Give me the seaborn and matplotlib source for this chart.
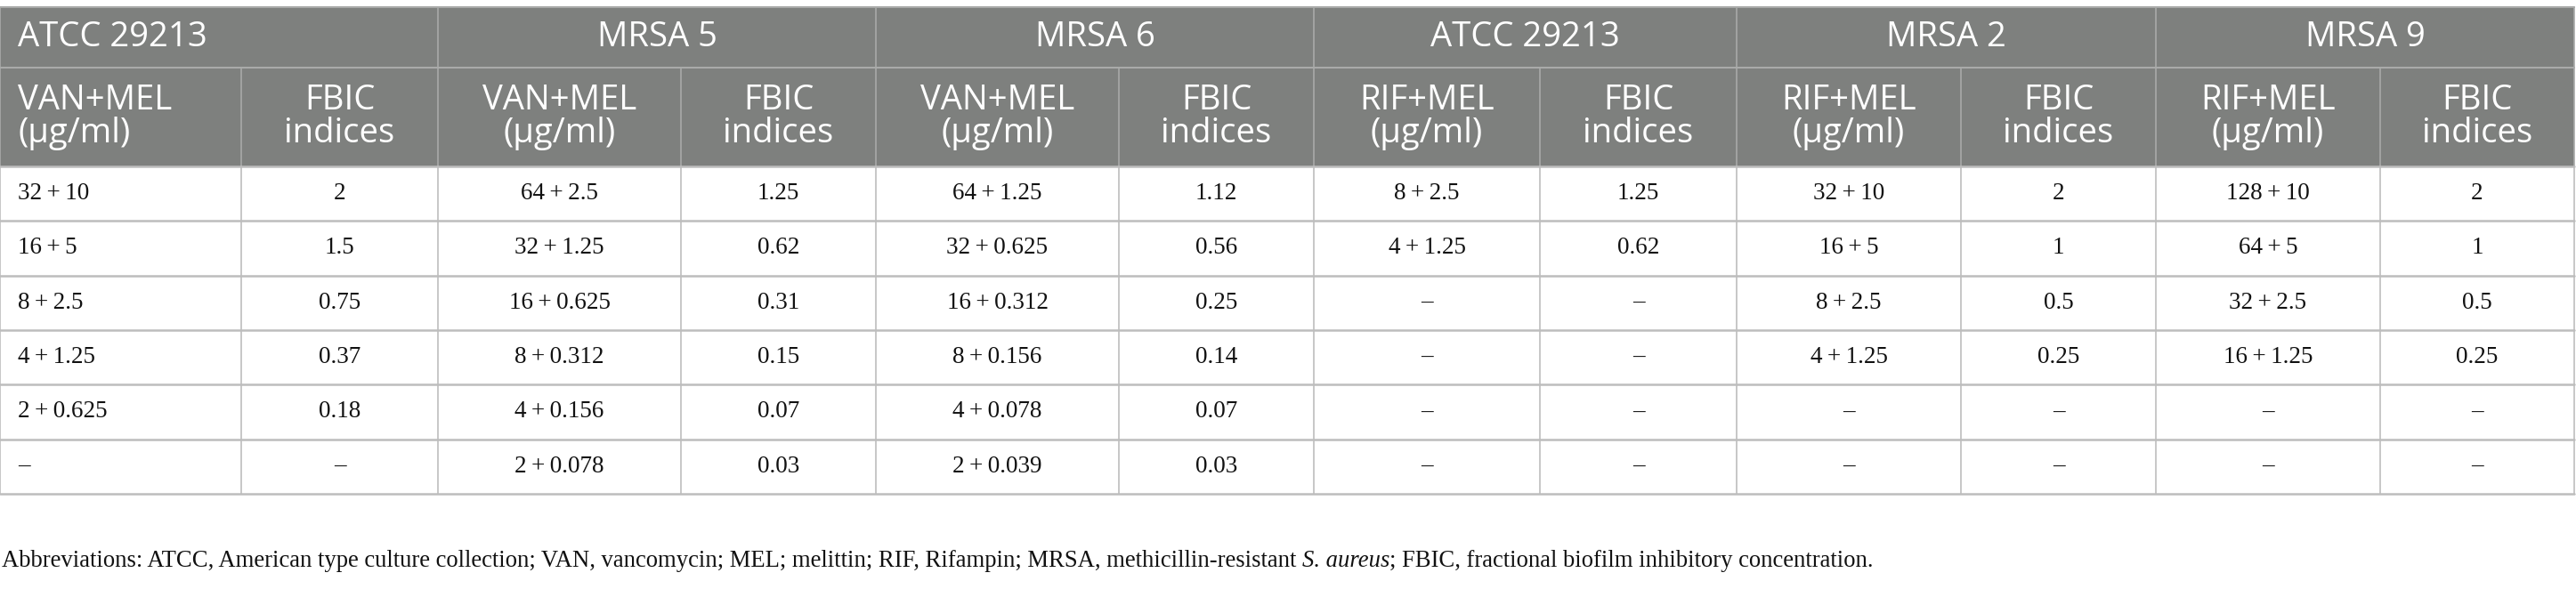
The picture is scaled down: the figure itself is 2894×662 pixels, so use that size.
# FBIC table of VAN+MEL and RIF+MEL combinations

import matplotlib
matplotlib.use("Agg")
import matplotlib.pyplot as plt
from matplotlib.patches import Rectangle
import seaborn as sns

groups = ["ATCC 29213", "MRSA 5", "MRSA 6", "ATCC 29213", "MRSA 2", "MRSA 9"]
combos = ["VAN+MEL", "VAN+MEL", "VAN+MEL", "RIF+MEL", "RIF+MEL", "RIF+MEL"]

atcc_van_conc = ["32+10", "16+5", "8+2.5", "4+1.25", "2+0.625", "–"]
atcc_van_fbic = ["2", "1.5", "0.75", "0.37", "0.18", "–"]
mrsa5_conc = ["64+2.5", "32+1.25", "16+0.625", "8+0.312", "4+0.156", "2+0.078"]
mrsa5_fbic = ["1.25", "0.62", "0.31", "0.15", "0.07", "0.03"]
mrsa6_conc = ["64+1.25", "32+0.625", "16+0.312", "8+0.156", "4+0.078", "2+0.039"]
mrsa6_fbic = ["1.12", "0.56", "0.25", "0.14", "0.07", "0.03"]
atcc_rif_conc = ["8+2.5", "4+1.25", "–", "–", "–", "–"]
atcc_rif_fbic = ["1.25", "0.62", "–", "–", "–", "–"]
mrsa2_conc = ["32+10", "16+5", "8+2.5", "4+1.25", "–", "–"]
mrsa2_fbic = ["2", "1", "0.5", "0.25", "–", "–"]
mrsa9_conc = ["128+10", "64+5", "32+2.5", "16+1.25", "–", "–"]
mrsa9_fbic = ["2", "1", "0.5", "0.25", "–", "–"]

columns = [atcc_van_conc, atcc_van_fbic, mrsa5_conc, mrsa5_fbic,
           mrsa6_conc, mrsa6_fbic, atcc_rif_conc, atcc_rif_fbic,
           mrsa2_conc, mrsa2_fbic, mrsa9_conc, mrsa9_fbic]

footnote_pre = ("Abbreviations: ATCC, American type culture collection; VAN, vancomycin; "
                "MEL; melittin; RIF, Rifampin; MRSA, methicillin-resistant ")
footnote_ital = "S. aureus"
footnote_post = "; FBIC, fractional biofilm inhibitory concentration."

# layout (pixels)
W, H = 2894, 662
edges = [0, 271, 492, 765, 984, 1257, 1476, 1730, 1951, 2203, 2422, 2674, 2892]
top, h1, h2 = 8, 76, 187
row_h = 61.33
n_rows = len(atcc_van_conc)
bottom = h2 + row_h * n_rows
pad = 20

head_bg = "#7e807e"
head_line = "#a9aaa9"
body_line = "#bdbdbd"

sns.set_theme(style="white")
sans = ["Open Sans", "DejaVu Sans"]
serif = ["Liberation Serif", "DejaVu Serif"]
head_fs = 27.5
body_fs = 19.5
note_fs = 19.2

fig = plt.figure(figsize=(W / 100, H / 100), dpi=100)
ax = fig.add_axes([0, 0, 1, 1])
ax.set_xlim(0, W)
ax.set_ylim(H, 0)
ax.axis("off")

# header background
ax.add_patch(Rectangle((edges[0], top), edges[-1] - edges[0], h2 - top,
                       facecolor=head_bg, edgecolor="none"))

# header lines
ax.plot([edges[0], edges[-1]], [top, top], color=head_line, lw=1.5)
ax.plot([edges[0], edges[-1]], [h1, h1], color=head_line, lw=1.5)
for i, x in enumerate(edges):
    y0 = top if i % 2 == 0 else h1
    ax.plot([x, x], [y0, h2], color=head_line, lw=1.2)

# body lines
for r in range(n_rows + 1):
    y = h2 + r * row_h
    ax.plot([edges[0], edges[-1]], [y, y], color=body_line, lw=1.8)
for x in edges:
    ax.plot([x, x], [h2, bottom], color=body_line, lw=1.2)

# group headers
for g, name in enumerate(groups):
    x0, x1 = edges[2 * g], edges[2 * g + 2]
    if g == 0:
        ax.text(x0 + pad, (top + h1) / 2, name, ha="left", va="center",
                color="white", fontsize=head_fs, family=sans)
    else:
        ax.text((x0 + x1) / 2, (top + h1) / 2, name, ha="center", va="center",
                color="white", fontsize=head_fs, family=sans)

# sub headers
ls = 0.96
for g, combo in enumerate(combos):
    label = combo + "\n(μg/ml)"
    a, b, c = edges[2 * g], edges[2 * g + 1], edges[2 * g + 2]
    ym = (h1 + h2) / 2
    if g == 0:
        ax.text(a + pad, ym, label, ha="left", va="center", color="white",
                fontsize=head_fs, family=sans, linespacing=ls)
    else:
        ax.text((a + b) / 2, ym, label, ha="center", va="center", color="white",
                fontsize=head_fs, family=sans, linespacing=ls, multialignment="center")
    ax.text((b + c) / 2, ym, "FBIC\nindices", ha="center", va="center", color="white",
            fontsize=head_fs, family=sans, linespacing=ls, multialignment="center")

# body cells
for c, vals in enumerate(columns):
    for r, v in enumerate(vals):
        s = v.replace("+", "\u2009+\u2009")
        y = h2 + (r + 0.5) * row_h
        if c == 0:
            ax.text(edges[0] + pad, y, s, ha="left", va="center",
                    fontsize=body_fs, family=serif, color="#111111")
        else:
            ax.text((edges[c] + edges[c + 1]) / 2, y, s, ha="center", va="center",
                    fontsize=body_fs, family=serif, color="#111111")

# footnote with italic species name
fig.canvas.draw()
renderer = fig.canvas.get_renderer()
fy = 637
t1 = ax.text(2, fy, footnote_pre, ha="left", va="baseline", fontsize=note_fs,
             family=serif, color="#111111")
x_next = t1.get_window_extent(renderer).x1
t2 = ax.text(x_next, fy, footnote_ital, ha="left", va="baseline", fontsize=note_fs,
             family=serif, style="italic", color="#111111")
x_next = t2.get_window_extent(renderer).x1
ax.text(x_next, fy, footnote_post, ha="left", va="baseline", fontsize=note_fs,
        family=serif, color="#111111")

fig.savefig("out.png", dpi=100)
